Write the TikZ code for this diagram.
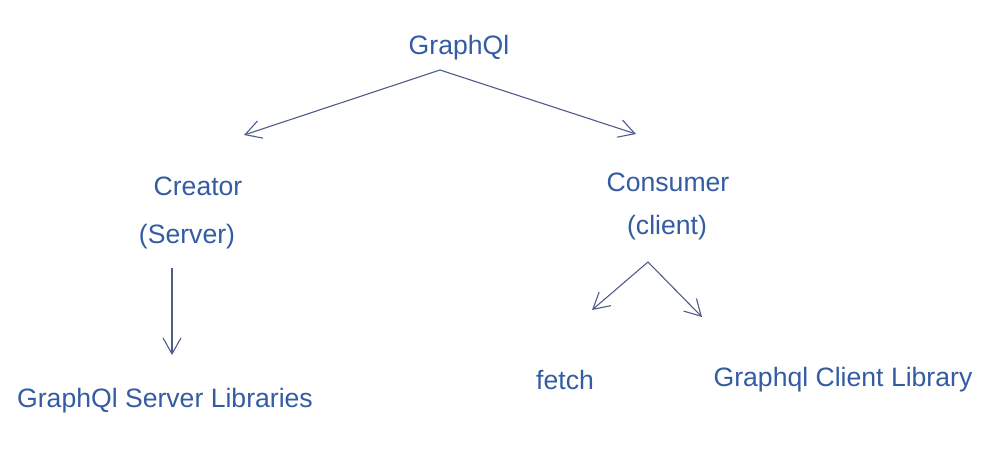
\documentclass[tikz,border=0pt]{standalone}
\usepackage{fontspec}
\setmainfont{Liberation Sans}
\usetikzlibrary{arrows.meta}
\definecolor{txtblue}{RGB}{52,92,162}
\definecolor{lineblue}{RGB}{78,92,138}
\begin{document}
\begin{tikzpicture}[x=1pt,y=-1pt,
  lbl/.style={text=txtblue,font=\fontsize{26.6}{30}\selectfont,inner sep=0pt,anchor=center},
  conn/.style={draw=lineblue,line width=1.1pt,-{Straight Barb[length=16pt,width=18pt,line width=1.1pt]}}]
\fill[white] (0,0) rectangle (991,453);
\useasboundingbox (0,0) rectangle (991,453);
\node[lbl] (root) at (459,48) {GraphQl};
\node[lbl] (creator) at (198,186) {Creator};
\node[lbl] (server) at (187,237) {(Server)};
\node[lbl] (consumer) at (668,182) {Consumer};
\node[lbl] (client) at (667,228) {(client)};
\node[lbl] (serverlib) at (165,401) {GraphQl Server Libraries};
\node[lbl] (fetch) at (565,380) {fetch};
\node[lbl] (clientlib) at (843,380) {Graphql Client Library};
\coordinate (rs) at (440,70);
\coordinate (re1) at (244,135);
\coordinate (re2) at (636,134);
\coordinate (ss) at (172,268);
\coordinate (se) at (172,355);
\coordinate (cs) at (648,262);
\coordinate (ce1) at (592,310);
\coordinate (ce2) at (702,317);
\draw[conn] (rs) -- (re1);
\draw[conn] (rs) -- (re2);
\draw[conn] (ss) -- (se);
\draw[conn] (cs) -- (ce1);
\draw[conn] (cs) -- (ce2);
\end{tikzpicture}
\end{document}
